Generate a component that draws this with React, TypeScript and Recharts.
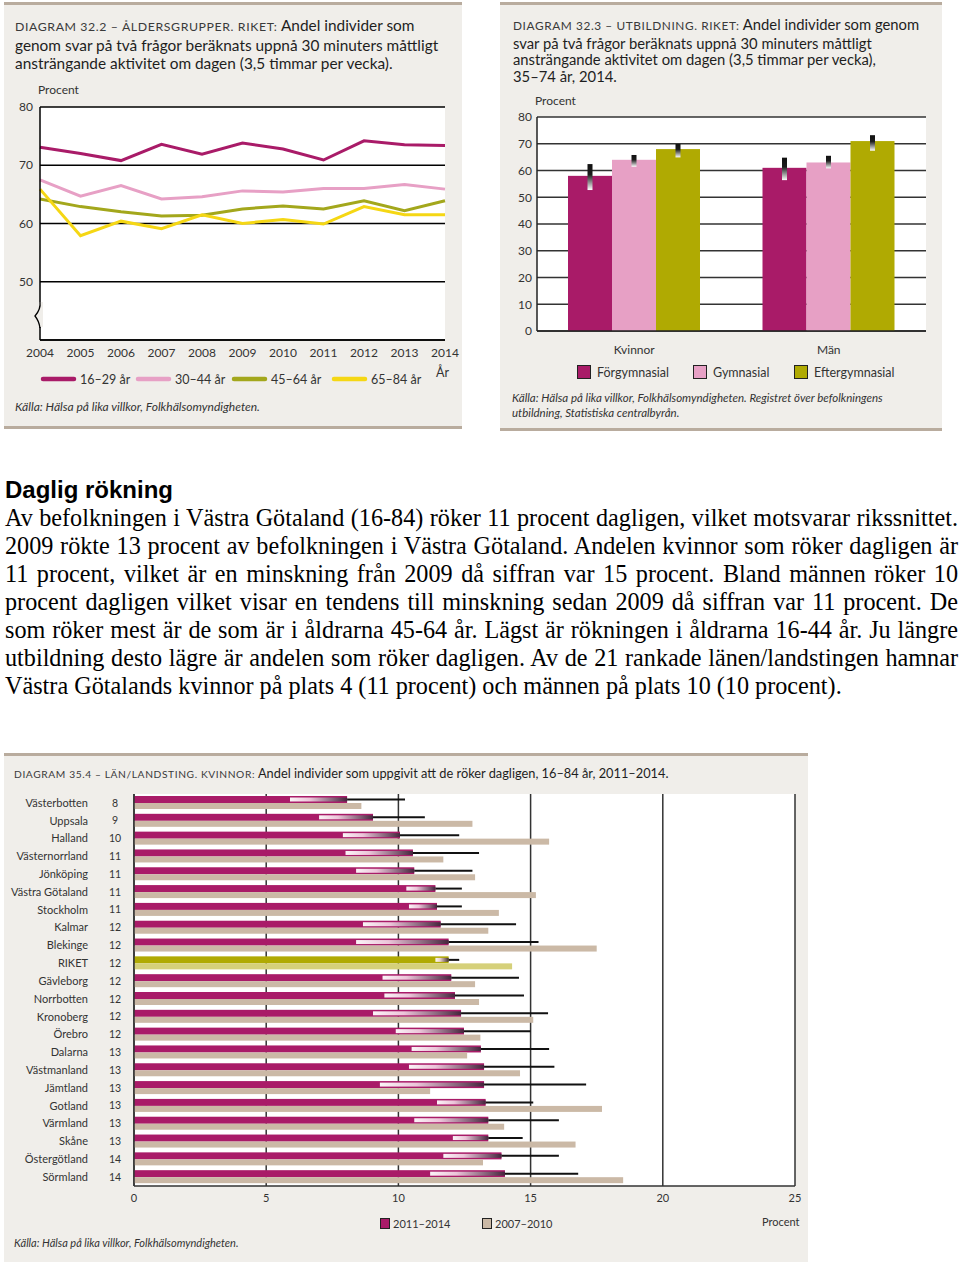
import React from 'react';
import { LineChart, Line, XAxis, YAxis, CartesianGrid, BarChart, Bar } from 'recharts';

// ---------- Diagram 32.2 ----------
const years = ['2004', '2005', '2006', '2007', '2008', '2009', '2010', '2011', '2012', '2013', '2014'];
const age1629 = [73.1, 72.0, 70.8, 73.6, 71.9, 73.8, 72.8, 70.9, 74.2, 73.5, 73.4];
const age3044 = [67.5, 64.7, 66.5, 64.2, 64.6, 65.6, 65.4, 66.0, 66.0, 66.7, 65.9];
const age4564 = [64.2, 62.9, 62.0, 61.3, 61.4, 62.5, 63.0, 62.5, 63.9, 62.2, 63.9];
const age6584 = [65.9, 57.9, 60.4, 59.1, 61.5, 60.0, 60.7, 59.9, 62.9, 61.5, 61.5];
const ageLabels = ['16–29 år', '30–44 år', '45–64 år', '65–84 år'];
const lineTicks = [40, 50, 60, 70, 80];

// ---------- Diagram 32.3 ----------
const eduGroups = ['Kvinnor', 'Män'];
const eduLabels = ['Förgymnasial', 'Gymnasial', 'Eftergymnasial'];
const forgymnasial = [58, 61];
const forgymnasialLow = [52.7, 56.4];
const forgymnasialHigh = [62.4, 64.8];
const gymnasial = [64, 63];
const gymnasialLow = [61.4, 60.8];
const gymnasialHigh = [65.8, 65.5];
const eftergymnasial = [68, 71];
const eftergymnasialLow = [64.9, 67.4];
const eftergymnasialHigh = [69.9, 73.2];
const eduTicks = [0, 10, 20, 30, 40, 50, 60, 70, 80];

// ---------- Diagram 35.4 ----------
const regions = ['Västerbotten', 'Uppsala', 'Halland', 'Västernorrland', 'Jönköping', 'Västra Götaland', 'Stockholm', 'Kalmar', 'Blekinge', 'RIKET', 'Gävleborg', 'Norrbotten', 'Kronoberg', 'Örebro', 'Dalarna', 'Västmanland', 'Jämtland', 'Gotland', 'Värmland', 'Skåne', 'Östergötland', 'Sörmland'];
const regionRounded = [8, 9, 10, 11, 11, 11, 11, 12, 12, 12, 12, 12, 12, 12, 13, 13, 13, 13, 13, 13, 14, 14];
const smoke2011 = [8.06, 9.04, 10.06, 10.55, 10.6, 11.4, 11.46, 11.6, 11.9, 11.9, 12.0, 12.14, 12.37, 12.48, 13.12, 13.24, 13.24, 13.3, 13.4, 13.4, 13.9, 14.03];
const smoke2011Low = [5.9, 7.0, 7.9, 8.0, 8.4, 10.3, 10.4, 8.66, 8.4, 11.4, 9.4, 9.47, 9.04, 9.9, 10.5, 10.4, 9.3, 11.46, 10.6, 12.06, 11.7, 11.2];
const smoke2011High = [10.25, 11.0, 12.3, 13.05, 12.8, 12.4, 12.4, 14.45, 15.3, 12.3, 14.56, 14.75, 15.66, 15.0, 15.7, 15.9, 17.1, 15.1, 16.07, 14.7, 16.07, 16.8];
const smoke2007 = [8.6, 12.8, 15.7, 11.7, 12.9, 15.2, 13.8, 13.4, 17.5, 14.3, 12.9, 13.05, 15.1, 13.1, 12.6, 14.6, 11.2, 17.7, 14.0, 16.7, 13.2, 18.5];
const highlightRegion = 'RIKET';
const smokeTicks = [0, 5, 10, 15, 20, 25];
const smokeLegend = ['2011–2014', '2007–2010'];

// ---------- styles ----------
const SANS = 'Lato, "Open Sans", sans-serif';
const PANEL_BG = '#f0eeea';
const PANEL_BORDER = '#b9ac9e';
const MAGENTA = '#a91b68';
const PINK = '#e7a0c5';
const OLIVE = '#b0aa02';
const OLIVE_LINE = '#a3a71c';
const YELLOW = '#f5d714';
const BEIGE = '#cbb9a6';
const OLIVE_LIGHT = '#d5d07a';
const ageColors = [MAGENTA, PINK, OLIVE_LINE, YELLOW];
const eduColors = [MAGENTA, PINK, OLIVE];
const tickStyle = { fontFamily: SANS, fontSize: 12, fill: '#333' };

const lineData = years.map((y, i) => ({ year: y, a: age1629[i], b: age3044[i], c: age4564[i], d: age6584[i] }));
const eduData = eduGroups.map((g, i) => ({
  group: g,
  f: forgymnasial[i], fLo: forgymnasialLow[i], fHi: forgymnasialHigh[i],
  g: gymnasial[i], gLo: gymnasialLow[i], gHi: gymnasialHigh[i],
  e: eftergymnasial[i], eLo: eftergymnasialLow[i], eHi: eftergymnasialHigh[i],
}));
const smokeData = regions.map((r, i) => ({
  name: r, cur: smoke2011[i], lo: smoke2011Low[i], hi: smoke2011High[i], prev: smoke2007[i], hl: r === highlightRegion,
}));

const LineYTick = (p: any) => {
  const v = p.payload.value;
  if (v === 40) {
    const ax = p.x + 7;
    const y = p.y;
    return (
      <g>
        <rect x={ax - 3} y={y - 38} width={6} height={25} fill={PANEL_BG} />
        <path d={`M${ax},${y - 38} Q${ax + 1},${y - 31} ${ax - 5},${y - 24} Q${ax - 1},${y - 19} ${ax},${y - 12}`} stroke="#000" strokeWidth={1.3} fill="none" />
      </g>
    );
  }
  return (
    <text x={p.x} y={p.y} dy="0.35em" textAnchor="end" {...tickStyle}>{v}</text>
  );
};

const makeEduShape = (key: string, loKey: string, hiKey: string) => (props: any) => {
  const { x, y, width, height, payload, fill, index } = props;
  const v = payload[key];
  const ppu = height / v;
  const bottom = y + height;
  const yHi = bottom - payload[hiKey] * ppu;
  const yLo = bottom - payload[loKey] * ppu;
  const cx = x + width / 2;
  const id = `eg-${key}-${index}`;
  return (
    <g>
      <defs>
        <linearGradient id={id} x1="0" x2="0" y1="0" y2="1">
          <stop offset="0%" stopColor="#111" />
          <stop offset="40%" stopColor="#1c1c1c" />
          <stop offset="100%" stopColor="#ffffff" />
        </linearGradient>
      </defs>
      <rect x={x} y={y} width={width} height={height} fill={fill} />
      <rect x={cx - 2.5} y={yHi} width={5} height={yLo - yHi} fill={`url(#${id})`} />
    </g>
  );
};

const RegionBar = (props: any) => {
  const { x, y, width, height, payload, index } = props;
  const v = payload.cur;
  const ppu = width / v;
  const xLo = x + payload.lo * ppu;
  const xV = x + width;
  const xHi = x + payload.hi * ppu;
  const cy = y + height / 2;
  const id = `rg-${index}`;
  return (
    <g>
      <defs>
        <linearGradient id={id} x1="0" x2="1" y1="0" y2="0">
          <stop offset="0%" stopColor="#ffffff" stopOpacity={0.95} />
          <stop offset="35%" stopColor="#f3d8e6" stopOpacity={0.9} />
          <stop offset="100%" stopColor="#3a2638" stopOpacity={0.9} />
        </linearGradient>
      </defs>
      <rect x={x} y={y} width={width} height={height} fill={payload.hl ? OLIVE : MAGENTA} />
      <rect x={xLo} y={cy - 2} width={xV - xLo} height={4} fill={`url(#${id})`} />
      <line x1={xV} x2={xHi} y1={cy} y2={cy} stroke="#111" strokeWidth={2} />
    </g>
  );
};

const PrevBar = (props: any) => {
  const { x, y, width, height, payload } = props;
  return <rect x={x} y={y} width={width} height={height} fill={payload.hl ? OLIVE_LIGHT : BEIGE} />;
};

const RegionTick = (p: any) => {
  const name = p.payload.value;
  const idx = regions.indexOf(name);
  return (
    <g>
      <text x={p.x - 38} y={p.y} dy="0.35em" textAnchor="end" fontFamily={SANS} fontSize={11} fill="#333">{name}</text>
      <text x={p.x - 11} y={p.y} dy="0.35em" textAnchor="middle" fontFamily={SANS} fontSize={10.5} fill="#333">{regionRounded[idx]}</text>
    </g>
  );
};

const abs = (left: number, top: number, extra: any = {}) => ({ position: 'absolute' as const, left, top, ...extra });

const SmallCaps = ({ children }: any) => (
  <span style={{ fontSize: '0.8em', letterSpacing: 0.6, color: '#3a3a3a' }}>{children}</span>
);

const bodyLines = [
  'Av befolkningen i Västra Götaland (16-84) röker 11 procent dagligen, vilket motsvarar rikssnittet.',
  '2009 rökte 13 procent av befolkningen i Västra Götaland. Andelen kvinnor som röker dagligen är',
  '11 procent, vilket är en minskning från 2009 då siffran var 15 procent. Bland männen röker 10',
  'procent dagligen vilket visar en tendens till minskning sedan 2009 då siffran var 11 procent. De',
  'som röker mest är de som är i åldrarna 45-64 år. Lägst är rökningen i åldrarna 16-44 år. Ju längre',
  'utbildning desto lägre är andelen som röker dagligen. Av de 21 rankade länen/landstingen hamnar',
  'Västra Götalands kvinnor på plats 4 (11 procent) och männen på plats 10 (10 procent).',
];

const ageLegendLeft = [40, 135, 231, 331];
const eduLegendLeft = [577, 693, 794];
const smokeLegendLeft = [380, 482];

export default function App() {
  const titleStyle = { fontFamily: SANS, color: '#1e1e1e', whiteSpace: 'nowrap' as const };
  return (
    <div style={{ position: 'absolute', left: 0, top: 0, width: 960, height: 1267, background: '#fff', overflow: 'hidden' }}>
      {/* Panel 1 */}
      <div style={abs(4, 2, { width: 458, height: 427, background: PANEL_BG, borderTop: `3px solid ${PANEL_BORDER}`, borderBottom: `3px solid ${PANEL_BORDER}`, boxSizing: 'border-box' })} />
      <div style={abs(15, 16, { ...titleStyle, fontSize: 15.4, lineHeight: '18px' })}>
        <div><SmallCaps>DIAGRAM 32.2 – ÅLDERSGRUPPER. RIKET:</SmallCaps> Andel individer som</div>
        <div>genom svar på två frågor beräknats uppnå 30 minuters måttligt</div>
        <div>ansträngande aktivitet om dagen (3,5 timmar per vecka).</div>
      </div>
      <div style={abs(38, 82, { fontFamily: SANS, fontSize: 12, color: '#333' })}>Procent</div>
      <div style={abs(0, 0)}>
        <LineChart width={470} height={400} data={lineData} margin={{ top: 107, right: 25, bottom: 30, left: 0 }}>
          <CartesianGrid vertical={false} stroke="#000" strokeWidth={1.5} fill="#fff" />
          <XAxis dataKey="year" height={30} tickLine={false} axisLine={{ stroke: '#000', strokeWidth: 1.5 }} tick={tickStyle} interval={0} />
          <YAxis width={40} domain={[40, 80]} ticks={lineTicks} tickLine={false} tickSize={6} tickMargin={1} axisLine={{ stroke: '#000', strokeWidth: 1.5 }} tick={<LineYTick />} />
          <YAxis yAxisId="r" orientation="right" width={0} domain={[40, 80]} tick={false} tickLine={false} axisLine={{ stroke: '#000', strokeWidth: 1.5 }} />
          <Line dataKey="a" stroke={ageColors[0]} strokeWidth={3} dot={false} isAnimationActive={false} />
          <Line dataKey="b" stroke={ageColors[1]} strokeWidth={3} dot={false} isAnimationActive={false} />
          <Line dataKey="c" stroke={ageColors[2]} strokeWidth={3} dot={false} isAnimationActive={false} />
          <Line dataKey="d" stroke={ageColors[3]} strokeWidth={3} dot={false} isAnimationActive={false} />
        </LineChart>
      </div>
      {ageLabels.map((l, i) => (
        <div key={l} style={abs(ageLegendLeft[i], 371, { display: 'flex', alignItems: 'center', height: 16, fontFamily: SANS, fontSize: 12.5, color: '#333', whiteSpace: 'nowrap' })}>
          <svg width={37} height={8} style={{ marginRight: 3 }}>
            <line x1={3} y1={4} x2={34} y2={4} stroke={ageColors[i]} strokeWidth={4.5} strokeLinecap="round" />
          </svg>
          {l}
        </div>
      ))}
      <div style={abs(436, 365, { fontFamily: SANS, fontSize: 12.5, color: '#333' })}>År</div>
      <div style={abs(15, 399, { fontFamily: SANS, fontSize: 12, fontStyle: 'italic', color: '#333', whiteSpace: 'nowrap' })}>Källa: Hälsa på lika villkor, Folkhälsomyndigheten.</div>

      {/* Panel 2 */}
      <div style={abs(500, 2, { width: 442, height: 429, background: PANEL_BG, borderTop: `3px solid ${PANEL_BORDER}`, borderBottom: `3px solid ${PANEL_BORDER}`, boxSizing: 'border-box' })} />
      <div style={abs(513, 16, { ...titleStyle, fontSize: 14.8, lineHeight: '16.6px' })}>
        <div><SmallCaps>DIAGRAM 32.3 – UTBILDNING. RIKET:</SmallCaps> Andel individer som genom</div>
        <div>svar på två frågor beräknats uppnå 30 minuters måttligt</div>
        <div>ansträngande aktivitet om dagen (3,5 timmar per vecka),</div>
        <div>35–74 år, 2014.</div>
      </div>
      <div style={abs(535, 93, { fontFamily: SANS, fontSize: 12, color: '#333' })}>Procent</div>
      <div style={abs(499, 0)}>
        <BarChart width={456} height={380} data={eduData} margin={{ top: 117, right: 29, bottom: 19, left: 0 }} barGap={0}>
          <CartesianGrid vertical={false} stroke="#333" strokeWidth={1.3} fill="#fff" />
          <XAxis dataKey="group" height={30} tickLine={false} tickSize={6} tickMargin={8} axisLine={{ stroke: '#222', strokeWidth: 1.5 }} tick={tickStyle} />
          <YAxis width={38} domain={[0, 80]} ticks={eduTicks} tickLine={false} tickSize={0} tickMargin={5} axisLine={{ stroke: '#222', strokeWidth: 1.5 }} tick={tickStyle} />
          <YAxis yAxisId="r" orientation="right" width={0} domain={[0, 80]} tick={false} tickLine={false} axisLine={{ stroke: '#222', strokeWidth: 1.5 }} />
          <Bar dataKey="f" fill={eduColors[0]} barSize={44} shape={makeEduShape('f', 'fLo', 'fHi')} isAnimationActive={false} />
          <Bar dataKey="g" fill={eduColors[1]} barSize={44} shape={makeEduShape('g', 'gLo', 'gHi')} isAnimationActive={false} />
          <Bar dataKey="e" fill={eduColors[2]} barSize={44} shape={makeEduShape('e', 'eLo', 'eHi')} isAnimationActive={false} />
        </BarChart>
      </div>
      {eduLabels.map((l, i) => (
        <div key={l} style={abs(eduLegendLeft[i], 364, { display: 'flex', alignItems: 'center', height: 16, fontFamily: SANS, fontSize: 12.5, color: '#333', whiteSpace: 'nowrap' })}>
          <span style={{ display: 'inline-block', width: 12, height: 12, background: eduColors[i], border: '1px solid #222', marginRight: 6 }} />
          {l}
        </div>
      ))}
      <div style={abs(512, 390, { fontFamily: SANS, fontSize: 11.5, fontStyle: 'italic', color: '#333', whiteSpace: 'nowrap', lineHeight: '15px' })}>
        <div>Källa: Hälsa på lika villkor, Folkhälsomyndigheten. Registret över befolkningens</div>
        <div>utbildning, Statistiska centralbyrån.</div>
      </div>

      {/* Text */}
      <div style={abs(5, 476, { fontFamily: '"Liberation Sans", Arial, sans-serif', fontWeight: 'bold', fontSize: 24, lineHeight: '28px', color: '#000', whiteSpace: 'nowrap' })}>Daglig rökning</div>
      <div style={abs(5, 504, { width: 953, fontFamily: '"Liberation Serif", "Times New Roman", serif', fontSize: 24.2, lineHeight: '28px', color: '#000' })}>
        {bodyLines.map((l, i) => (
          <div key={i} style={{ height: 28, textAlign: i < bodyLines.length - 1 ? 'justify' : 'left', textAlignLast: i < bodyLines.length - 1 ? 'justify' : 'left', whiteSpace: 'nowrap' }}>{l}</div>
        ))}
      </div>

      {/* Panel 3 */}
      <div style={abs(4, 753, { width: 804, height: 509, background: PANEL_BG, borderTop: `3px solid ${PANEL_BORDER}`, boxSizing: 'border-box' })} />
      <div style={abs(14, 765, { ...titleStyle, fontSize: 12.8, lineHeight: '16px' })}>
        <SmallCaps>DIAGRAM 35.4 – LÄN/LANDSTING. KVINNOR:</SmallCaps> Andel individer som uppgivit att de röker dagligen, 16–84 år, 2011–2014.
      </div>
      <div style={abs(0, 750)}>
        <BarChart width={810} height={470} data={smokeData} layout="vertical" margin={{ top: 44, right: 15, bottom: 4, left: 0 }} barGap={0}>
          <CartesianGrid horizontal={false} stroke="#333" strokeWidth={1.5} fill="#fff" />
          <XAxis type="number" domain={[0, 25]} ticks={smokeTicks} height={30} tickLine={false} axisLine={{ stroke: '#333', strokeWidth: 1.5 }} tick={{ ...tickStyle, fontSize: 11 }} />
          <XAxis xAxisId="top" orientation="top" type="number" domain={[0, 25]} height={0} tick={false} tickLine={false} axisLine={{ stroke: '#333', strokeWidth: 1.5 }} />
          <YAxis type="category" dataKey="name" width={134} tickLine={false} tickSize={6} tickMargin={2} axisLine={{ stroke: '#333', strokeWidth: 1.5 }} tick={<RegionTick />} interval={0} />
          <Bar dataKey="cur" barSize={7} shape={<RegionBar />} isAnimationActive={false} />
          <Bar dataKey="prev" barSize={6} shape={<PrevBar />} isAnimationActive={false} />
        </BarChart>
      </div>
      {smokeLegend.map((l, i) => (
        <div key={l} style={abs(smokeLegendLeft[i], 1215, { display: 'flex', alignItems: 'center', height: 16, fontFamily: SANS, fontSize: 11, color: '#333', whiteSpace: 'nowrap' })}>
          <span style={{ display: 'inline-block', width: 8, height: 9, background: i === 0 ? MAGENTA : BEIGE, border: '1px solid #222', marginRight: 3 }} />
          {l}
        </div>
      ))}
      <div style={abs(762, 1215, { fontFamily: SANS, fontSize: 11, color: '#333' })}>Procent</div>
      <div style={abs(14, 1236, { fontFamily: SANS, fontSize: 11, fontStyle: 'italic', color: '#333', whiteSpace: 'nowrap' })}>Källa: Hälsa på lika villkor, Folkhälsomyndigheten.</div>
    </div>
  );
}
